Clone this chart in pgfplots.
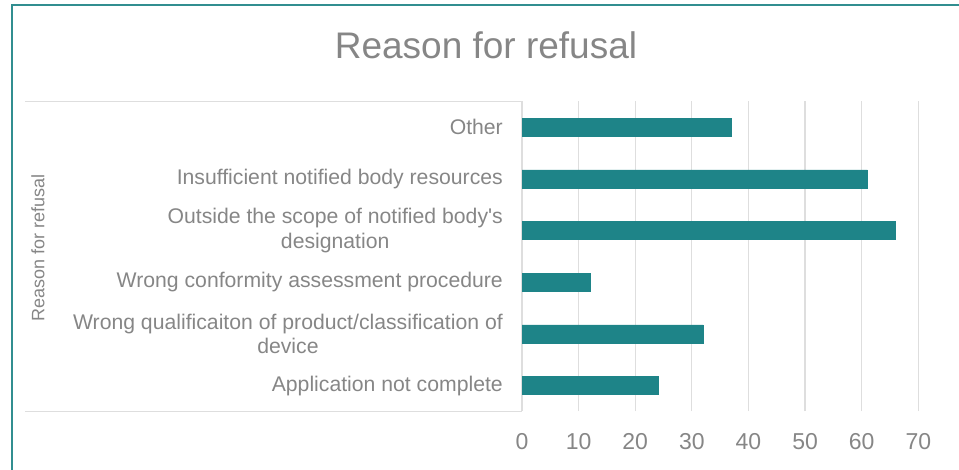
\documentclass[border=0pt]{standalone}
\usepackage{pgfplots}
\pgfplotsset{compat=1.18}
\usepackage{fontspec}
\setmainfont{Liberation Sans}
\definecolor{txt}{RGB}{134,134,134}
\definecolor{gridc}{RGB}{222,222,222}
\definecolor{barc}{RGB}{30,132,136}
\definecolor{framec}{RGB}{49,142,144}
\begin{document}
\begin{tikzpicture}[x=1bp,y=1bp]
\path[use as bounding box] (0,0) rectangle (959,470);
\draw[framec, line width=2bp] (11.5,0) -- (11.5,465) -- (959,465);
\node[anchor=base, text=txt, font=\fontsize{37bp}{44bp}\selectfont] at (486,411.7) {Reason for refusal};
\node[rotate=90, text=txt, font=\fontsize{18bp}{22bp}\selectfont] at (38,222) {Reason for refusal};
\draw[gridc, line width=1.3bp] (25,368.5) -- (522,368.5) (25,58.5) -- (522,58.5);
\begin{axis}[at={(522bp,58.5bp)}, anchor=south west, width=396.3bp, height=310bp, scale only axis,
  xbar, xmin=0, xmax=70, ymin=-0.5, ymax=5.5,
  xtick={0,10,...,70}, ytick={0,1,2,3,4,5},
  yticklabels={Application not complete,
    {Wrong qualificaiton of product/classification of\\device},
    Wrong conformity assessment procedure,
    {Outside the scope of notified body\textquotesingle s\\designation},
    Insufficient notified body resources,
    Other},
  /pgf/number format/assume math mode=true,
  axis line style={draw=none}, major tick length=0,
  xmajorgrids, major grid style={gridc, line width=1.3bp},
  tick label style={text=txt},
  xticklabel style={font=\fontsize{23bp}{27bp}\selectfont, anchor=base, yshift=-37.8bp},
  yticklabel style={font=\fontsize{21.2bp}{24.5bp}\selectfont, align=center, inner sep=0pt, xshift=-19bp},
  bar width=18bp, clip=false]
\addplot[fill=barc, draw=barc] coordinates {(24,0) (32,1) (12,2) (66,3) (61,4) (37,5)};
\end{axis}
\end{tikzpicture}
\end{document}
